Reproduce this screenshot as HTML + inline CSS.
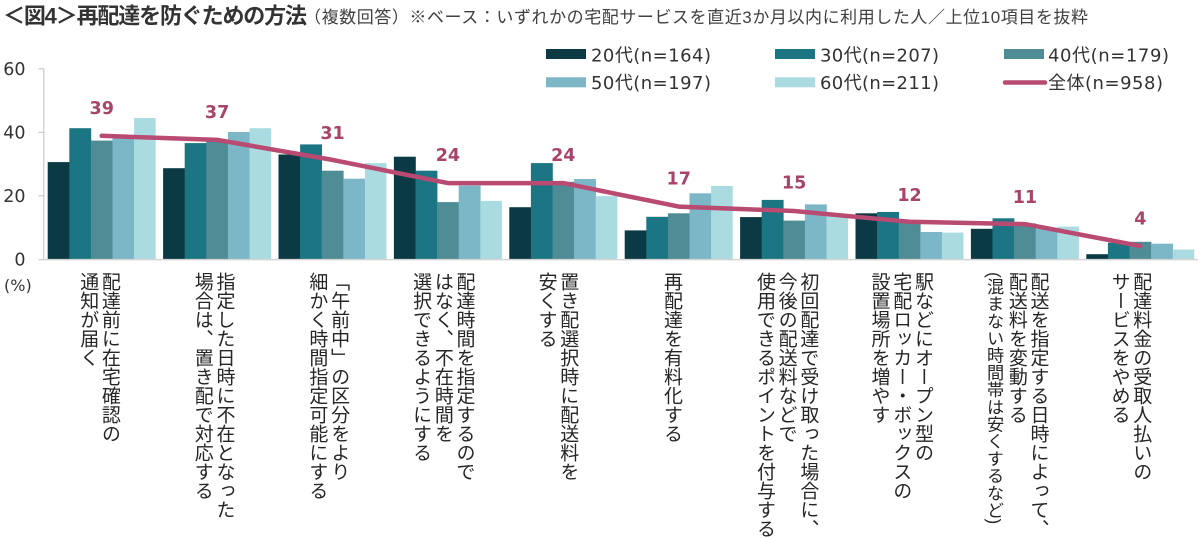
<!DOCTYPE html>
<html lang="ja">
<head>
<meta charset="utf-8">
<style>
  html,body{margin:0;padding:0;background:#fff;}
  body{width:1200px;height:539px;overflow:hidden;position:relative;}
  svg{position:absolute;left:0;top:0;}
  .c1{fill:#0b3a44}
  .c2{fill:#1b7582}
  .c3{fill:#4e8c96}
  .c4{fill:#7cb7c7}
  .c5{fill:#aadbe1}
  .lbl{position:absolute;top:272px;writing-mode:vertical-rl;text-orientation:mixed;
       font-family:"Liberation Sans","Noto Sans CJK JP",sans-serif;font-size:19px;line-height:21.7px;
       color:#262626;white-space:nowrap;}
  .sm{font-size:17.2px;}
</style>
</head>
<body>
<svg width="1200" height="539" viewBox="0 0 1200 539" xmlns="http://www.w3.org/2000/svg">
  <!-- title -->
  <text x="3" y="23.5" font-family="'Liberation Sans','Noto Sans CJK JP',sans-serif" font-size="22" font-weight="bold" fill="#333" textLength="304">＜図4＞再配達を防ぐための方法</text>
  <text x="304" y="23" font-family="'Liberation Sans','Noto Sans CJK JP',sans-serif" font-size="17" fill="#404040" textLength="784">（複数回答）※ベース：いずれかの宅配サービスを直近3か月以内に利用した人／上位10項目を抜粋</text>

  <!-- legend -->
  <g font-family="'DejaVu Sans','Noto Sans CJK JP',sans-serif" font-size="18" fill="#333">
    <rect x="546" y="49" width="40" height="10" class="c1"/>
    <text x="591" y="61.5" textLength="120">20代(n=164)</text>
    <rect x="775" y="49" width="40" height="10" class="c2"/>
    <text x="820" y="61.5" textLength="119">30代(n=207)</text>
    <rect x="1004" y="49" width="40" height="10" class="c3"/>
    <text x="1048" y="61.5" textLength="121">40代(n=179)</text>
    <rect x="546" y="77.3" width="40" height="10" class="c4"/>
    <text x="591" y="89" textLength="120">50代(n=197)</text>
    <rect x="775" y="77.3" width="40" height="10" class="c5"/>
    <text x="820" y="89" textLength="119">60代(n=211)</text>
    <line x1="1005" y1="82.5" x2="1045" y2="82.5" stroke="#b94a72" stroke-width="4.5" stroke-linecap="round"/>
    <text x="1048" y="89" textLength="115">全体(n=958)</text>
  </g>

  <!-- y axis -->
  <g stroke="#bfbfbf" stroke-width="1">
    <line x1="43.8" y1="68.8" x2="43.8" y2="259.3"/>
    <line x1="38.5" y1="68.8" x2="43.8" y2="68.8"/>
    <line x1="38.5" y1="132.3" x2="43.8" y2="132.3"/>
    <line x1="38.5" y1="195.8" x2="43.8" y2="195.8"/>
  </g>
  <g font-family="'DejaVu Sans',sans-serif" font-size="17.5" fill="#333" text-anchor="end">
    <text x="25.5" y="75.1">60</text>
    <text x="25.5" y="138.6">40</text>
    <text x="25.5" y="202.1">20</text>
    <text x="25.5" y="265.6">0</text>
  </g>
  <text x="4" y="291" font-family="'DejaVu Sans',sans-serif" font-size="16" fill="#333">(%)</text>

  <!-- bars -->
  <g>
    <rect x="47.7" y="162.1" width="21.9" height="97.2" class="c1"/>
    <rect x="69.3" y="128.2" width="21.9" height="131.1" class="c2"/>
    <rect x="90.9" y="140.6" width="21.9" height="118.7" class="c3"/>
    <rect x="112.5" y="137.1" width="21.9" height="122.2" class="c4"/>
    <rect x="134.1" y="118.0" width="21.6" height="141.3" class="c5"/>

    <rect x="163.1" y="168.2" width="21.9" height="91.1" class="c1"/>
    <rect x="184.7" y="143.1" width="21.9" height="116.2" class="c2"/>
    <rect x="206.3" y="140.6" width="21.9" height="118.7" class="c3"/>
    <rect x="227.9" y="132.0" width="21.9" height="127.3" class="c4"/>
    <rect x="249.5" y="128.2" width="21.6" height="131.1" class="c5"/>

    <rect x="278.5" y="154.5" width="21.9" height="104.8" class="c1"/>
    <rect x="300.1" y="144.4" width="21.9" height="114.9" class="c2"/>
    <rect x="321.7" y="170.7" width="21.9" height="88.6" class="c3"/>
    <rect x="343.3" y="178.7" width="21.9" height="80.6" class="c4"/>
    <rect x="364.9" y="163.1" width="21.6" height="96.2" class="c5"/>

    <rect x="393.9" y="156.7" width="21.9" height="102.6" class="c1"/>
    <rect x="415.5" y="170.7" width="21.9" height="88.6" class="c2"/>
    <rect x="437.1" y="202.1" width="21.9" height="57.2" class="c3"/>
    <rect x="458.7" y="185.6" width="21.9" height="73.7" class="c4"/>
    <rect x="480.3" y="200.9" width="21.6" height="58.4" class="c5"/>

    <rect x="509.3" y="207.2" width="21.9" height="52.1" class="c1"/>
    <rect x="530.9" y="163.1" width="21.9" height="96.2" class="c2"/>
    <rect x="552.5" y="181.8" width="21.9" height="77.5" class="c3"/>
    <rect x="574.1" y="179.0" width="21.9" height="80.3" class="c4"/>
    <rect x="595.7" y="196.1" width="21.6" height="63.2" class="c5"/>

    <rect x="624.7" y="230.4" width="21.9" height="28.9" class="c1"/>
    <rect x="646.3" y="216.8" width="21.9" height="42.5" class="c2"/>
    <rect x="667.9" y="213.3" width="21.9" height="46.0" class="c3"/>
    <rect x="689.5" y="193.3" width="21.9" height="66.0" class="c4"/>
    <rect x="711.1" y="186.0" width="21.6" height="73.3" class="c5"/>

    <rect x="740.1" y="217.1" width="21.9" height="42.2" class="c1"/>
    <rect x="761.7" y="199.9" width="21.9" height="59.4" class="c2"/>
    <rect x="783.3" y="220.6" width="21.9" height="38.7" class="c3"/>
    <rect x="804.9" y="204.4" width="21.9" height="54.9" class="c4"/>
    <rect x="826.5" y="216.4" width="21.6" height="42.9" class="c5"/>

    <rect x="855.5" y="213.3" width="21.9" height="46.0" class="c1"/>
    <rect x="877.1" y="212.0" width="21.9" height="47.3" class="c2"/>
    <rect x="898.7" y="221.2" width="21.9" height="38.1" class="c3"/>
    <rect x="920.3" y="232.0" width="21.9" height="27.3" class="c4"/>
    <rect x="941.9" y="232.6" width="21.6" height="26.7" class="c5"/>

    <rect x="970.9" y="228.8" width="21.9" height="30.5" class="c1"/>
    <rect x="992.5" y="218.3" width="21.9" height="41.0" class="c2"/>
    <rect x="1014.1" y="223.4" width="21.9" height="35.9" class="c3"/>
    <rect x="1035.7" y="228.8" width="21.9" height="30.5" class="c4"/>
    <rect x="1057.3" y="226.6" width="21.6" height="32.7" class="c5"/>

    <rect x="1086.3" y="254.2" width="21.9" height="5.1" class="c1"/>
    <rect x="1107.9" y="242.8" width="21.9" height="16.5" class="c2"/>
    <rect x="1129.5" y="241.8" width="21.9" height="17.5" class="c3"/>
    <rect x="1151.1" y="243.7" width="21.9" height="15.6" class="c4"/>
    <rect x="1172.7" y="249.5" width="21.6" height="9.8" class="c5"/>
  </g>

  <!-- baseline -->
  <line x1="38.5" y1="259.6" x2="1198" y2="259.6" stroke="#d4d4d4" stroke-width="1.5"/>

  <!-- total line -->
  <polyline points="101.7,135.8 217.1,139.9 332.5,159.9 447.9,183.1 563.3,183.1 678.7,206.6 794.1,211.0 909.5,221.8 1024.9,224.1 1140.3,246.0"
    fill="none" stroke="#b94a72" stroke-width="4.5" stroke-linejoin="round" stroke-linecap="round"/>

  <!-- data labels -->
  <g font-family="'DejaVu Sans',sans-serif" font-size="17.5" font-weight="bold" fill="#a8446a" text-anchor="middle">
    <text x="101.7" y="113.8">39</text>
    <text x="217.1" y="117.9">37</text>
    <text x="332.5" y="139">31</text>
    <text x="447.9" y="161.2">24</text>
    <text x="563.3" y="161.2">24</text>
    <text x="678.7" y="184.6">17</text>
    <text x="794.1" y="188.5">15</text>
    <text x="909.5" y="200.8">12</text>
    <text x="1024.9" y="202.8">11</text>
    <text x="1140.3" y="224.5">4</text>
  </g>
</svg>

<div class="lbl" style="left:76.5px;">配達前に在宅確認の<br>通知が届く</div>
<div class="lbl" style="left:191.1px;">指定した日時に不在となった<br>場合は、置き配で対応する</div>
<div class="lbl" style="left:305.7px;">「午前中」の区分をより<br>細かく時間指定可能にする</div>
<div class="lbl" style="left:409.45px;">配達時間を指定するので<br>はなく、不在時間を<br>選択できるようにする</div>
<div class="lbl" style="left:534.9px;">置き配選択時に配送料を<br>安くする</div>
<div class="lbl" style="left:660.35px;">再配達を有料化する</div>
<div class="lbl" style="left:753.25px;">初回配達で受け取った場合に、<br>今後の配送料などで<br>使用できるポイントを付与する</div>
<div class="lbl" style="left:867.85px;">駅などにオープン型の<br>宅配ロッカー・ボックスの<br>設置場所を増やす</div>
<div class="lbl" style="left:982.45px;">配送を指定する日時によって、<br>配送料を変動する<br><span class="sm">(混まない時間帯は安くするなど)</span></div>
<div class="lbl" style="left:1107.9px;">配達料金の受取人払いの<br>サービスをやめる</div>
</body>
</html>
